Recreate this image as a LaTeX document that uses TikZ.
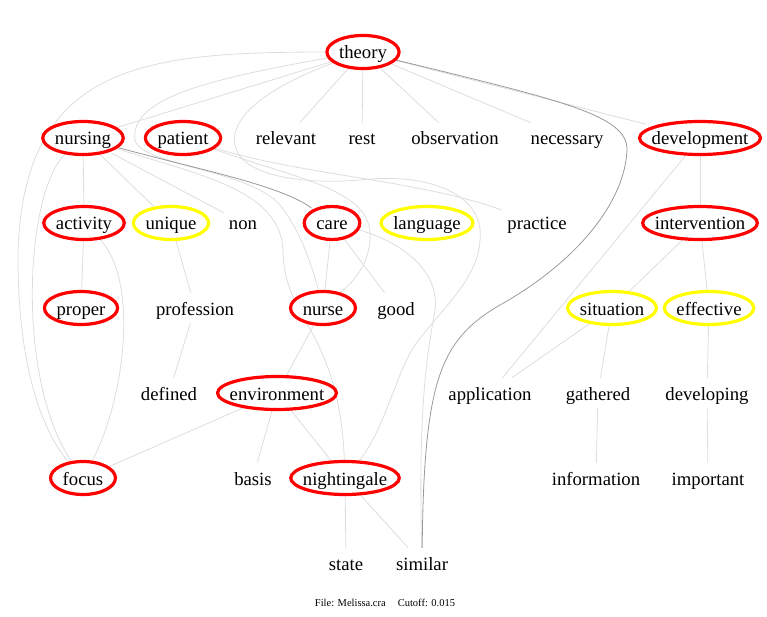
\documentclass[tikz,border=0pt]{standalone}
\usepackage{fontspec}
\setmainfont{Liberation Serif}
\usetikzlibrary{calc}
\definecolor{ringR}{HTML}{FF0000}
\definecolor{ringY}{HTML}{FFFF00}
\definecolor{linkL}{HTML}{DDDDDD}
\definecolor{linkD}{HTML}{9A9A9A}
\pgfdeclarelayer{edges}
\pgfdeclarelayer{rings}
\pgfsetlayers{edges,rings,main}

\begin{document}
\begin{tikzpicture}[x=1pt,y=-1pt,
  word/.style={font=\fontsize{18.7}{20}\selectfont,inner xsep=5pt,inner ysep=6pt,text height=16pt,text depth=2pt},
  link/.style={draw=linkL,line width=0.8pt},
  heavy/.style={draw=linkD,line width=0.8pt},
  ring/.style={line width=3.2pt,fill=white}]
\useasboundingbox (0,0) rectangle (767,617);
% Words, row by row
\node[word] (theory) at (363,52) {theory};
\node[word] (nursing) at (83,138) {nursing};
\node[word] (patient) at (183,138) {patient};
\node[word] (relevant) at (286,138) {relevant};
\node[word] (rest) at (362,138) {rest};
\node[word] (observation) at (455,138) {observation};
\node[word] (necessary) at (567,138) {necessary};
\node[word] (development) at (700,138) {development};
\node[word] (activity) at (84,223) {activity};
\node[word] (unique) at (171,223) {unique};
\node[word] (non) at (243,223) {non};
\node[word] (care) at (332,223) {care};
\node[word] (language) at (427,223) {language};
\node[word] (practice) at (537,223) {practice};
\node[word] (intervention) at (700,223) {intervention};
\node[word] (proper) at (81,308) {proper};
\node[word] (profession) at (195,308) {profession};
\node[word] (nurse) at (323,308) {nurse};
\node[word] (good) at (396,308) {good};
\node[word] (situation) at (612,308) {situation};
\node[word] (effective) at (709,308) {effective};
\node[word] (defined) at (169,393) {defined};
\node[word] (environment) at (277,393) {environment};
\node[word] (application) at (490,393) {application};
\node[word] (gathered) at (598,393) {gathered};
\node[word] (developing) at (707,393) {developing};
\node[word] (focus) at (83,478) {focus};
\node[word] (basis) at (253,478) {basis};
\node[word] (nightingale) at (345,478) {nightingale};
\node[word] (information) at (596,478) {information};
\node[word] (important) at (708,478) {important};
\node[word] (state) at (346,563) {state};
\node[word] (similar) at (422,563) {similar};
\node[font=\fontsize{10.5}{12}\selectfont] (caption) at (385,603) {File: Melissa.cra\hspace{12pt}Cutoff: 0.015};
% Rings
\begin{pgfonlayer}{rings}
\foreach \w in {theory,nursing,patient,development,activity,care,intervention,proper,nurse,environment,focus,nightingale}
  \draw[ring,draw=ringR] let \p1=($(\w.east)-(\w.west)$) in (\w.center) ellipse ({0.5*\x1+7pt} and 16.5pt);
\foreach \w in {unique,language,situation,effective}
  \draw[ring,draw=ringY] let \p1=($(\w.east)-(\w.west)$) in (\w.center) ellipse ({0.5*\x1+7pt} and 16.5pt);
\end{pgfonlayer}
% Links
\begin{pgfonlayer}{edges}
\foreach \a/\b in {theory/nursing,theory/relevant,theory/rest,theory/observation,theory/necessary,theory/development,
  nursing/activity,nursing/unique,nursing/non,activity/proper,unique/profession,profession/defined,
  care/nurse,care/good,nurse/environment,environment/focus,environment/basis,environment/nightingale,
  nightingale/state,nightingale/similar,development/intervention,development/application,
  intervention/situation,intervention/effective,situation/application,situation/gathered,
  effective/developing,gathered/information,developing/important}
  \draw[link] (\a) -- (\b);
\draw[link] (theory) .. controls (150,52) and (25,60) .. (18,250) .. controls (17,360) and (40,430) .. (focus);
\draw[link] (nursing) .. controls (25,190) and (15,380) .. (focus);
\draw[link] (activity) .. controls (140,280) and (125,400) .. (focus);
\draw[link] (theory) .. controls (200,80) and (130,100) .. (135,140) .. controls (140,165) and (250,170) .. (280,205) .. controls (300,230) and (312,265) .. (nurse);
\draw[link] (theory) .. controls (260,90) and (230,120) .. (235,145) .. controls (240,175) and (300,185) .. (360,180) .. controls (430,172) and (485,195) .. (480,240) .. controls (478,280) and (440,310) .. (415,345) .. controls (395,375) and (385,430) .. (nightingale);
\draw[link] (nursing) .. controls (200,175) and (280,190) .. (283,250) .. controls (283,320) and (340,330) .. (nightingale);
\draw[link] (patient) .. controls (300,180) and (375,190) .. (370,240) .. controls (368,265) and (355,280) .. (nurse);
\draw[link] (patient) .. controls (300,175) and (420,180) .. (practice);
\draw[link] (care) .. controls (400,240) and (440,270) .. (435,310) .. controls (428,350) and (418,400) .. (similar);
\draw[heavy] (nursing) .. controls (200,170) and (280,185) .. (care);
\draw[heavy] (theory) .. controls (560,100) and (628,115) .. (627,150) .. controls (625,200) and (580,260) .. (500,305) .. controls (440,340) and (424,380) .. (similar);
\end{pgfonlayer}
\end{tikzpicture}
\end{document}
